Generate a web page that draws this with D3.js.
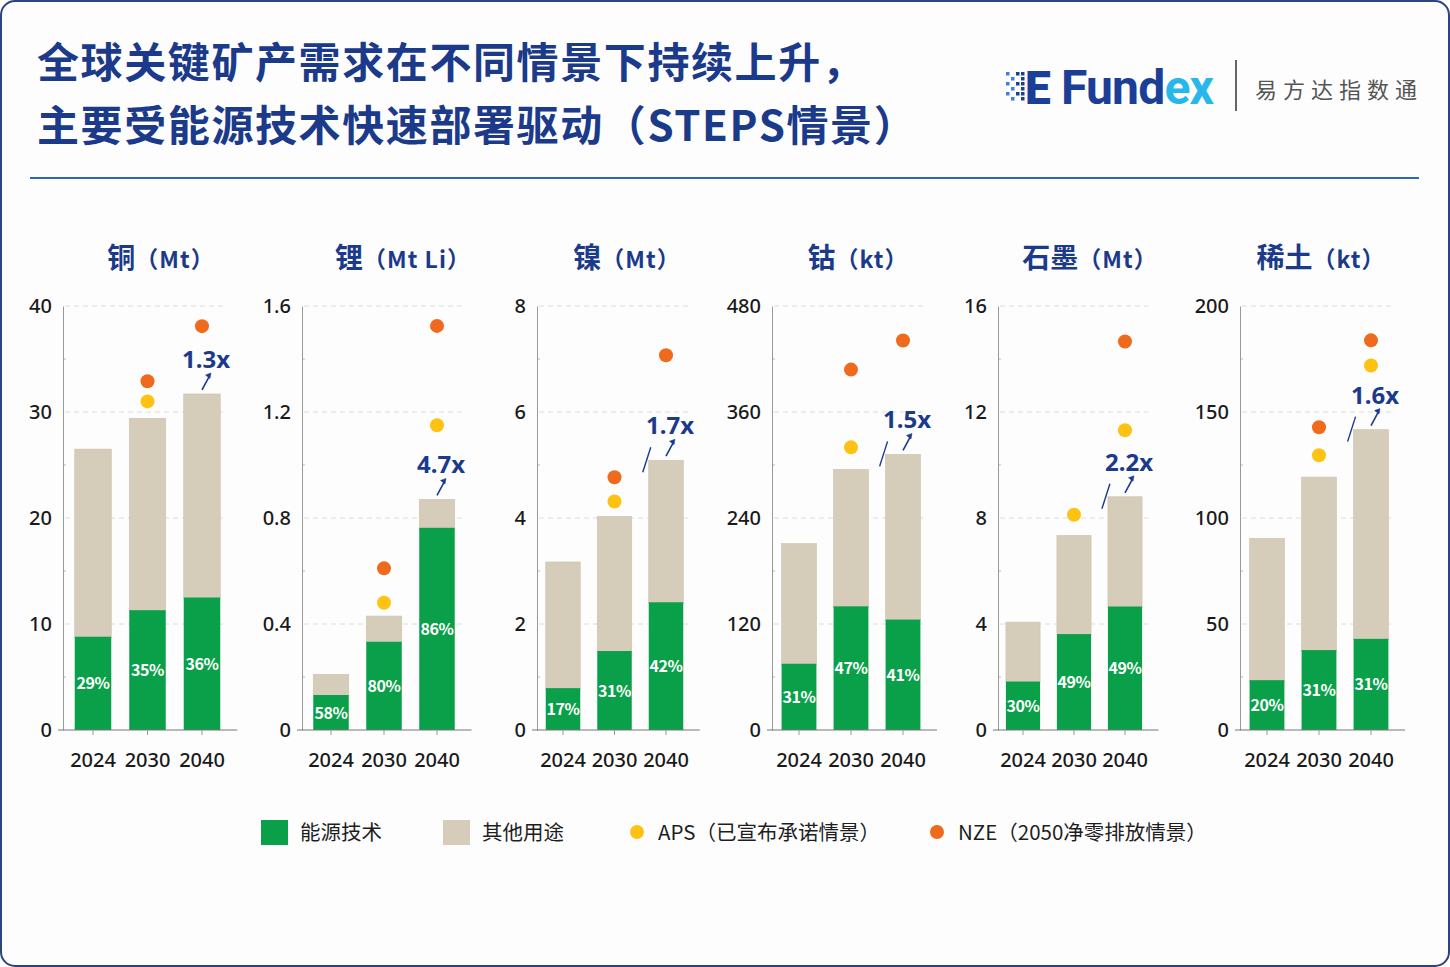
<!DOCTYPE html>
<html>
<head>
<meta charset="utf-8">
<script src="https://cdn.jsdelivr.net/npm/d3@7"></script>
<style>
  html, body { margin: 0; padding: 0; background: #ffffff; }
  svg { display: block; font-family: "Noto Sans CJK SC", "Noto Sans", sans-serif; }
</style>
</head>
<body>
<div id="chart"></div>
<script>
// chart values
const minerals = ['铜', '锂', '镍', '钴', '石墨', '稀土']
const units = ['（Mt）', '（Mt Li）', '（Mt）', '（kt）', '（Mt）', '（kt）']
const years = ['2024', '2030', '2040']
const yMax = [40, 1.6, 8, 480, 16, 200]
const totals = [
  [26.5, 29.4, 31.7],
  [0.21, 0.43, 0.87],
  [3.17, 4.03, 5.09],
  [211, 295, 312],
  [4.07, 7.34, 8.8],
  [90.4, 119.3, 141.7]
]
const energyTech = [
  [8.8, 11.3, 12.5],
  [0.132, 0.333, 0.763],
  [0.79, 1.49, 2.41],
  [75, 140, 125],
  [1.83, 3.62, 4.66],
  [23.5, 37.7, 43]
]
const shareLabels = [
  ['29%', '35%', '36%'],
  ['58%', '80%', '86%'],
  ['17%', '31%', '42%'],
  ['31%', '47%', '41%'],
  ['30%', '49%', '49%'],
  ['20%', '31%', '31%']
]
const aps = [
  [null, 31.0, null],
  [null, 0.48, 1.15],
  [null, 4.31, null],
  [null, 320, null],
  [null, 8.12, 11.31],
  [null, 129.6, 171.9]
]
const nze = [
  [null, 32.9, 38.1],
  [null, 0.61, 1.525],
  [null, 4.77, 7.07],
  [null, 408, 441],
  [null, null, 14.66],
  [null, 142.8, 183.8]
]
const multipliers = ['1.3x', '4.7x', '1.7x', '1.5x', '2.2x', '1.6x']
const hasSlash = [false, false, true, true, true, true]
const legendItems = ['能源技术', '其他用途', 'APS（已宣布承诺情景）', 'NZE（2050净零排放情景）']

const config = {
  width: 1450,
  height: 967,
  navy: '#1b3a8a',
  colors: { energy: '#0aa04a', other: '#d5cdb9', aps: '#fec312', nze: '#ef6a1c' },
  // per panel: y axis position, first bar offset, bar step, title centre
  panelX: [63, 302, 537, 772, 998, 1240],
  firstOffset: [30, 29, 26, 27, 25, 27],
  step: [54.5, 53, 51.5, 52, 51, 52],
  titleX: [161, 403, 627, 858, 1090, 1321],
  plot: { top: 306, bottom: 730 }
}

const svg = d3.select('#chart')
  .append('svg')
  .attr('width', config.width)
  .attr('height', config.height)

// frame
svg.append('rect')
  .attr('x', 1).attr('y', 1)
  .attr('width', config.width - 2).attr('height', config.height - 2)
  .attr('rx', 14)
  .attr('fill', '#fdfdfe')
  .attr('stroke', '#2c4382')
  .attr('stroke-width', 2)

// title
const title = svg.append('g')
  .attr('fill', config.navy)
  .style('font-size', '42px')
  .style('font-weight', 700)
  .style('letter-spacing', '1.6px')
title.append('text').attr('x', 37).attr('y', 78).text('全球关键矿产需求在不同情景下持续上升，')
title.append('text').attr('x', 37).attr('y', 141).text('主要受能源技术快速部署驱动（STEPS情景）')

svg.append('line')
  .attr('x1', 30).attr('x2', 1419)
  .attr('y1', 178).attr('y2', 178)
  .attr('stroke', '#2d64c8')
  .attr('stroke-width', 2)

// logo
const logo = svg.append('g')
const dotCols = [0, 1, 2, 3]
dotCols.forEach(c => {
  for (let r = 0; r < 6; r++) {
    if ((c + r) % 2 === 0 || c === 3) {
      logo.append('rect')
        .attr('x', 1006 + c * 5).attr('y', 72 + r * 5)
        .attr('width', 3.5).attr('height', 3.5)
        .attr('fill', c < 2 ? '#3f7fe0' : '#1b3f96')
    }
  }
})
logo.append('text')
  .attr('x', 1025).attr('y', 104)
  .style('font-family', 'Roboto, "Noto Sans", sans-serif')
  .style('font-size', '46px')
  .style('font-weight', 900)
  .attr('fill', '#1b3f96')
  .text('E')
const brand = logo.append('text')
  .attr('x', 1061).attr('y', 104)
  .style('font-family', 'Roboto, "Noto Sans", sans-serif')
  .style('font-size', '48px')
  .style('font-weight', 700)
  .style('letter-spacing', '-0.8px')
brand.append('tspan').attr('fill', '#1b3f96').text('Fund')
brand.append('tspan').attr('fill', '#27b7ea').text('ex')
logo.append('line')
  .attr('x1', 1236).attr('x2', 1236)
  .attr('y1', 60).attr('y2', 111)
  .attr('stroke', '#666').attr('stroke-width', 2)
logo.append('text')
  .attr('x', 1255).attr('y', 98)
  .attr('fill', '#555')
  .style('font-size', '22px')
  .style('letter-spacing', '6px')
  .text('易方达指数通')

// panels
minerals.forEach((name, i) => {
  const x0 = config.panelX[i]
  const step = config.step[i]
  const start = x0 + config.firstOffset[i] - step / 2
  const end = start + 3 * step
  const g = svg.append('g')

  const x = d3.scaleBand()
    .domain(years)
    .range([start, end])
    .paddingInner(0.33)
    .paddingOuter(0.165)
  const y = d3.scaleLinear()
    .domain([0, yMax[i]])
    .range([config.plot.bottom, config.plot.top])
  const ticks = d3.range(5).map(k => yMax[i] * k / 4)

  // panel title
  const t = g.append('text')
    .attr('x', config.titleX[i]).attr('y', 268)
    .attr('text-anchor', 'middle')
    .attr('fill', config.navy)
    .style('font-weight', 700)
  t.append('tspan').style('font-size', '28px').text(name)
  t.append('tspan').style('font-size', '23px').style('letter-spacing', '1px').text(units[i])

  // grid
  g.append('g')
    .selectAll('line')
    .data(ticks.slice(1))
    .enter()
    .append('line')
    .attr('x1', x0 + 2).attr('x2', end - 2)
    .attr('y1', d => y(d)).attr('y2', d => y(d))
    .attr('stroke', '#dcdcdc')
    .attr('stroke-dasharray', '5,4')

  // minor ticks
  g.append('g')
    .selectAll('line')
    .data(ticks.slice(0, 4).map(d => d + yMax[i] / 8))
    .enter()
    .append('line')
    .attr('x1', x0).attr('x2', x0 + 3)
    .attr('y1', d => y(d)).attr('y2', d => y(d))
    .attr('stroke', '#bbb')

  // y axis
  const yAxis = g.append('g')
    .attr('transform', `translate(${x0},0)`)
    .call(d3.axisLeft(y).tickValues(ticks).tickFormat(d3.format('~g')).tickSize(0).tickPadding(11))
  yAxis.select('.domain').attr('stroke', '#999')
  yAxis.selectAll('text')
    .style('font-size', '20px')
    .style('font-family', '"Noto Sans", sans-serif')
    .style('font-weight', 500)
    .attr('fill', '#1a1a1a')

  // stacked bars
  g.append('g')
    .selectAll('rect')
    .data(years)
    .enter()
    .append('rect')
    .attr('x', d => x(d))
    .attr('width', x.bandwidth())
    .attr('y', (d, j) => y(totals[i][j]))
    .attr('height', (d, j) => y(energyTech[i][j]) - y(totals[i][j]) + 1)
    .attr('fill', config.colors.other)
    .attr('stroke', '#cbc2ac')
    .attr('stroke-width', 0.6)

  g.append('g')
    .selectAll('rect')
    .data(years)
    .enter()
    .append('rect')
    .attr('x', d => x(d))
    .attr('width', x.bandwidth())
    .attr('y', (d, j) => y(energyTech[i][j]))
    .attr('height', (d, j) => y(0) - y(energyTech[i][j]))
    .attr('fill', config.colors.energy)

  // share labels
  g.append('g')
    .selectAll('text')
    .data(years)
    .enter()
    .append('text')
    .attr('x', d => x(d) + x.bandwidth() / 2)
    .attr('y', (d, j) => (y(energyTech[i][j]) + y(0)) / 2 + 6)
    .attr('text-anchor', 'middle')
    .attr('fill', '#fff')
    .style('font-size', '16px')
    .style('font-weight', 600)
    .style('letter-spacing', '-0.4px')
    .text((d, j) => shareLabels[i][j])

  // x axis baseline
  const xAxis = g.append('g')
    .attr('transform', `translate(0,${config.plot.bottom})`)
    .call(d3.axisBottom(x).tickSize(5).tickPadding(18))
  xAxis.select('.domain')
    .attr('d', `M${x0 - 5},0H${end + 8}`)
    .attr('stroke', '#777')
  xAxis.selectAll('.tick line').attr('stroke', '#999')
  xAxis.selectAll('text')
    .style('font-size', '20px')
    .style('font-family', '"Noto Sans", sans-serif')
    .style('font-weight', 500)
    .attr('fill', '#1a1a1a')

  // scenario dots
  const dots = g.append('g')
  years.forEach((yr, j) => {
    if (aps[i][j] !== null) {
      dots.append('circle')
        .attr('cx', x(yr) + x.bandwidth() / 2)
        .attr('cy', y(aps[i][j]))
        .attr('r', 7)
        .attr('fill', config.colors.aps)
    }
    if (nze[i][j] !== null) {
      dots.append('circle')
        .attr('cx', x(yr) + x.bandwidth() / 2)
        .attr('cy', y(nze[i][j]))
        .attr('r', 7)
        .attr('fill', config.colors.nze)
    }
  })

  // growth annotation on 2040 bar
  const last = years[2]
  const cx = x(last) + x.bandwidth() / 2
  const top = y(totals[i][2])
  const ann = g.append('g').attr('stroke', config.navy).attr('fill', config.navy)
  ann.append('line')
    .attr('x1', cx).attr('y1', top - 4)
    .attr('x2', cx + 7).attr('y2', top - 17)
    .attr('stroke-width', 1.6)
  ann.append('path')
    .attr('d', `M${cx + 9},${top - 21} l-5.5,2 l4.5,3.5 Z`)
    .attr('stroke-width', 0.5)
  if (hasSlash[i]) {
    ann.append('line')
      .attr('x1', x(last) - 6).attr('y1', top + 12)
      .attr('x2', x(last) + 2).attr('y2', top - 13)
      .attr('stroke-width', 1.4)
  }
  ann.append('text')
    .attr('x', cx + 4).attr('y', top - 26)
    .attr('text-anchor', 'middle')
    .attr('stroke', 'none')
    .style('font-size', '24px')
    .style('font-weight', 700)
    .style('font-family', '"Noto Sans", sans-serif')
    .text(multipliers[i])
})

// legend
const legend = svg.append('g')
  .style('font-size', '20.5px')
  .attr('fill', '#1e1e1e')
const legendX = [261, 443, 630, 930]
legendItems.forEach((label, k) => {
  const lx = legendX[k]
  if (k < 2) {
    legend.append('rect')
      .attr('x', lx).attr('y', 820)
      .attr('width', 27).attr('height', 25)
      .attr('fill', k === 0 ? config.colors.energy : config.colors.other)
    legend.append('text').attr('x', lx + 39).attr('y', 840).text(label)
  } else {
    legend.append('circle')
      .attr('cx', lx + 7).attr('cy', 832)
      .attr('r', 7)
      .attr('fill', k === 2 ? config.colors.aps : config.colors.nze)
    legend.append('text').attr('x', lx + 28).attr('y', 840).text(label)
  }
})
</script>
</body>
</html>
